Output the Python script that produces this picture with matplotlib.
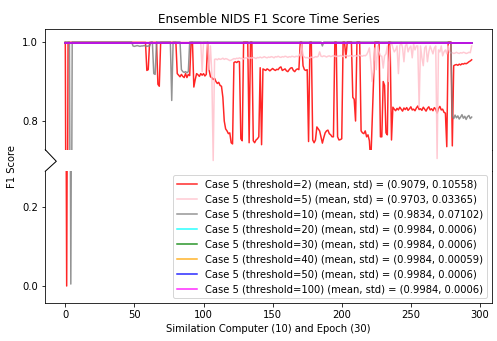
import matplotlib
matplotlib.use("Agg")
import matplotlib.pyplot as plt
from matplotlib.lines import Line2D
import numpy as np


def expand(runs):
    # runs hold single readings or (value, count) for flat stretches
    out = []
    for item in runs:
        if isinstance(item, tuple):
            value, count = item
            out += [value] * count
        else:
            out.append(item)
    return out


# --- Series (one point per computer/epoch step) ---
red_runs = [
    1.0, 0.0, (1.0, 57), 0.928, 0.93, (1.0, 6), 0.893, 0.888, (1.0, 12),
    0.92, 0.916, 0.912, 0.918, 0.913, 0.91, 0.92, 0.91, 0.918, 0.915,
    1.0, 1.0, 0.886, 0.905, 0.92, 0.917, 0.913, 0.92, 0.916, 0.92, 0.914, 0.918,
    1.0, 0.93, 0.912, 0.91, 0.905, 0.908, 0.9, 0.895, 0.898, 0.89, 0.888,
    0.86, 0.80, 0.78, 0.775, 0.768, 0.77, 0.745, 0.742,
    0.948, 0.95, 0.948, 0.951, 0.95, 0.755, 0.75, (1.0, 4), 0.745, 1.0, 1.0,
    0.75, 0.745, 0.752, 0.755, 0.76, 0.935, 0.74,
    0.932, 0.93, 0.928, 0.932, 0.93, 0.927, 0.93, 0.933, 0.93, 0.928,
    0.931, 0.93, 0.935, 0.937, 0.928, 0.93, 0.932, 0.927, 0.925, 0.93,
    0.934, 0.935, 0.928, 0.925, 0.93, 0.932, 0.93,
    1.0, 1.0, 0.94, 0.93, 0.928, 0.93, 0.748, 1.0, 1.0, 0.752, 0.745, 0.752,
    0.785, 0.78, 0.775, 0.76, 0.744, 0.758, 0.77, 0.775, 0.777, 0.768,
    0.765, 0.76, 0.76, 1.0, 1.0, 0.76, 0.752, 0.753, 0.755, 1.0, 1.0, 0.96,
    (1.0, 4), 0.86, 0.855, 0.80, (1.0, 3), 0.775, 0.77, 0.768, 0.775, 0.76,
    0.765, 0.75, 0.693, 0.80, 0.90, (1.0, 4), 0.76, 0.76, 0.90, 0.89, 0.77,
    0.765, 1.0, 1.0, 0.752, 0.835,
    0.83, 0.826, 0.832, 0.828, 0.835, 0.83, 0.825, 0.833, 0.829, 0.834,
    0.827, 0.831, 0.836, 0.828, 0.83, 0.826, 0.833, 0.838, 0.829, 0.831,
    0.827, 0.835, 0.83, 0.825, 0.832, 0.836, 0.828, 0.831, 0.826, 0.834,
    0.83, 0.82, 0.832, 0.837, 0.828, 0.83, 0.822,
    0.82, 0.735, (1.0, 3), 0.737, 0.94,
    0.942, 0.943, 0.941, 0.944, 0.942, 0.945, 0.944, 0.946, 0.945, 0.947,
    0.95, 0.952, 0.955,
]

pink_runs = [
    (1.0, 99), 0.925, (1.0, 4), 0.93, 0.99, 0.92, 0.70,
    0.956, 0.957, 0.955, 0.958, 0.956, 0.957, 0.959, 0.956, 0.958, 0.957,
    0.955, 0.953, 0.954, 0.956, 0.958, 0.957, 0.959, 0.958, 0.96, 0.958,
    0.959, 0.957, 0.96, 0.959, 0.961, 0.958, 0.96, 0.959, 0.961, 0.96,
    0.958, 0.961, 0.96, 0.962, 0.96, 0.961, 0.963, 0.961, 0.96, 0.962,
    0.961, 0.963, 0.962, 0.96, 0.963, 0.962, 0.964, 0.962, 0.961, 0.963,
    0.962, 0.964, 0.963, 0.961, 0.963, 0.962, 0.964, 0.963, 0.962, 0.964,
    0.963, 0.965, 0.97, 0.995,
    0.965, 0.962, 0.96, 0.961, 0.959, 0.96, 0.962, 0.96, 0.961, 0.963,
    0.962, 0.964, 0.975,
    0.964, 0.963, 0.965, 0.964, 0.962, 0.964, 0.965, 0.963, 0.964, 0.966,
    0.964, 0.963, 0.965, 0.964, 0.966, 0.965, 0.963, 0.964, 0.966, 0.965,
    0.964, 0.966, 0.965, 0.963, 0.965, 0.966, 0.964, 0.965, 0.967, 0.965,
    0.964, 0.966, 0.965, 0.968,
    0.975, 0.985, 0.95, 0.90, 0.93, 0.985, 0.93, 0.99, 0.975, 0.965,
    0.964, 0.934, 0.965, 0.97, 0.99, 0.90, 0.99, 1.0, 0.985, 0.975,
    0.98, 0.99, 0.92, 0.99, 1.0, 0.985, 0.95, 0.99, 0.995, 0.975,
    0.985, 0.99, 0.96, 0.995, 0.98, 0.99, 0.99, 0.835, 0.99, 0.96,
    0.94, 0.985, 0.99, 0.95, 0.975, 0.99, 0.98, 0.97, 0.985, 0.99,
    0.705, 0.98, 0.975, 0.99, 0.965, 0.975, 0.98, 0.97, 0.99, 0.975,
    0.972, 0.973, 0.971, 0.972, 0.974, 0.972, 0.971, 0.973, 0.972, 0.974,
    0.973, 0.971, 0.972, 0.974, 0.973, 0.99,
]

gray_runs = [
    (1.0, 4), 0.005, (1.0, 44),
    0.99, 0.989, 0.99, 0.991, 0.99, 0.989, 0.99, 0.99, 0.991, 0.99,
    0.989, 0.99, 0.99, (1.0, 2), 0.92, 0.918, (1.0, 11), 0.852, (1.0, 6),
    0.93, 0.925, 0.923, 0.925, 0.922, 0.925, (1.0, 96), 0.99, (1.0, 93),
    0.812, 0.806, 0.815, 0.808, 0.813, 0.805, 0.81, 0.816, 0.807, 0.812,
    0.804, 0.811, 0.814, 0.806, 0.81,
]

red = expand(red_runs)
pink = expand(pink_runs)
gray = expand(gray_runs)
n_steps = len(red)
# the higher thresholds sit flat at the top of the chart
flat_level = 0.998
cyan = [flat_level] * n_steps
green = [flat_level] * n_steps
orange = [flat_level] * n_steps
blue = [flat_level] * n_steps
magenta = [flat_level] * n_steps

thresholds = [2, 5, 10, 20, 30, 40, 50, 100]
stats = ["(0.9079, 0.10558)", "(0.9703, 0.03365)", "(0.9834, 0.07102)",
         "(0.9984, 0.0006)", "(0.9984, 0.0006)", "(0.9984, 0.00059)",
         "(0.9984, 0.0006)", "(0.9984, 0.0006)"]
colors = ["red", "pink", "gray", "cyan", "green", "orange", "blue", "magenta"]
series = [red, pink, gray, cyan, green, orange, blue, magenta]


fig = plt.figure(figsize=(497 / 72, 341 / 72), dpi=72)
left, width = 0.0905, 0.8994
ax_top = fig.add_axes([left, 0.5601, width, 0.3548])
ax_bot = fig.add_axes([left, 0.1114, width, 0.3871], sharex=ax_top)

x = np.arange(n_steps)
for values, color, thr, st in zip(series, colors, thresholds, stats):
    label = f"Case 5 (threshold={thr}) (mean, std) = {st}"
    # pink dips poke a little under the top panel in the original
    ax_top.plot(x, values, color=color, alpha=0.85, lw=1.5,
                clip_on=(color != "pink"))
    ax_bot.plot(x, values, color=color, alpha=0.85, lw=1.5, label=label)

ax_top.set_ylim(0.7266, 1.0329)
ax_bot.set_ylim(-0.043, 0.2911)
ax_top.set_yticks([0.8, 1.0])
ax_bot.set_yticks([0.0, 0.2])
ax_bot.set_xticks([0, 50, 100, 150, 200, 250, 300])

ax_top.spines["bottom"].set_visible(False)
ax_bot.spines["top"].set_visible(False)
ax_top.tick_params(bottom=False, labelbottom=False)

ax_top.set_title("Ensemble NIDS F1 Score Time Series")
ax_bot.set_xlabel("Similation Computer (10) and Epoch (30)")
fig.text(12 / 497, 1 - 166 / 341, "F1 Score", rotation=90,
         ha="center", va="center")

# --- break marker on the left, plain edge on the right ---
fig.add_artist(Line2D([0.0911, 0.1133, 0.0911], [0.561, 0.527, 0.4977],
                      color="black", lw=1))
fig.add_artist(Line2D([left + width, left + width], [0.4985, 0.5601],
                      color="black", lw=0.8))

ax_bot.legend(loc="lower right")

fig.savefig("out.png", dpi=72)
